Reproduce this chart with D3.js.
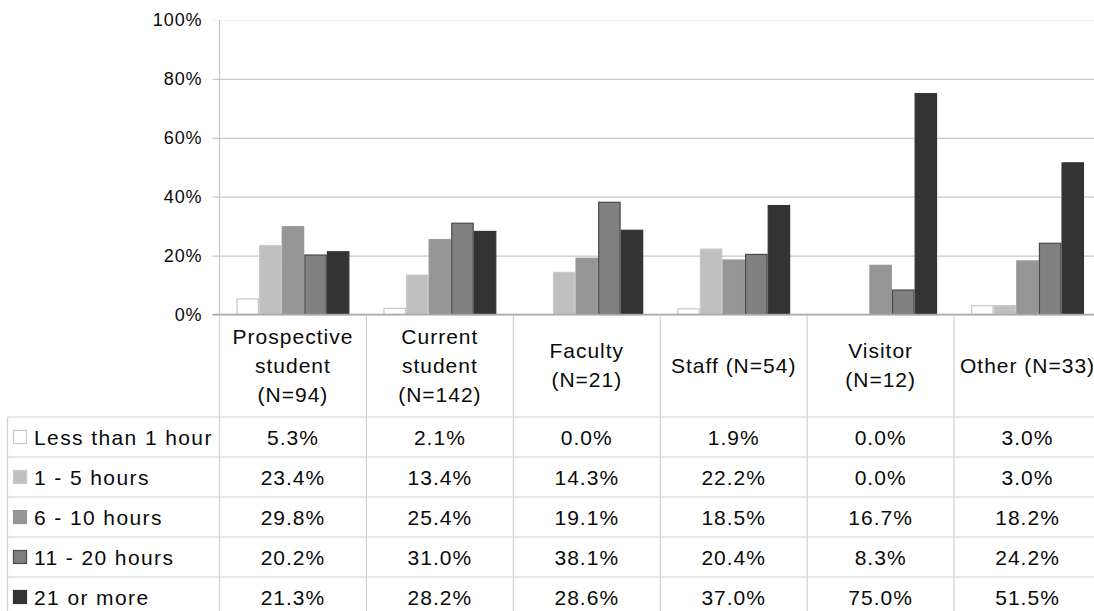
<!DOCTYPE html>
<html>
<head>
<meta charset="utf-8">
<script src="https://cdn.jsdelivr.net/npm/d3@7"></script>
<style>
  body { margin: 0; background: #fff; }
  svg { display: block; font-family: "Liberation Sans", Arial, sans-serif; }
</style>
</head>
<body>
<svg id="chart" width="1094" height="611"></svg>
<script>
(function() {

  var categories = ["Prospective student (N=94)", "Current student (N=142)", "Faculty (N=21)",
                    "Staff (N=54)", "Visitor (N=12)", "Other (N=33)"];
  var categoryLines = [
    ["Prospective", "student", "(N=94)"],
    ["Current", "student", "(N=142)"],
    ["Faculty", "(N=21)"],
    ["Staff (N=54)"],
    ["Visitor", "(N=12)"],
    ["Other (N=33)"]
  ];

  var series = ["Less than 1 hour", "1 - 5 hours", "6 - 10 hours", "11 - 20 hours", "21 or more"];

  var lessThan1 = [0.053, 0.021, 0.000, 0.019, 0.000, 0.030];
  var hours1to5 = [0.234, 0.134, 0.143, 0.222, 0.000, 0.030];
  var hours6to10 = [0.298, 0.254, 0.191, 0.185, 0.167, 0.182];
  var hours11to20 = [0.202, 0.310, 0.381, 0.204, 0.083, 0.242];
  var hours21plus = [0.213, 0.282, 0.286, 0.370, 0.750, 0.515];

  var yTicks = [0, 0.2, 0.4, 0.6, 0.8, 1.0];

  var values = [lessThan1, hours1to5, hours6to10, hours11to20, hours21plus];
  var fills = ["#ffffff", "#c0c0c0", "#969696", "#808080", "#333333"];
  var strokes = ["#c8c8c8", "#cacaca", "#969696", "#4a4a4a", "#333333"];

  var svg = d3.select("#chart");
  var gridColor = "#c8c8c8";
  var tableColor = "#d2d2d2";

  var left = 219.5, right = 1101, top = 20, zeroY = 314.5;
  var headerBottom = 417, rowH = 40;

  var x = d3.scaleBand().domain(categories).range([left, right]).padding(0);
  var xs = d3.scaleBand().domain(series).range([0, x.bandwidth()]).paddingInner(0).paddingOuter(0.75);
  var y = d3.scaleLinear().domain([0, 1]).range([zeroY, top]);

  // grid + y axis
  var yAxis = d3.axisLeft(y).tickValues(yTicks).tickFormat(d3.format(".0%"))
    .tickSize(-(1094 - left)).tickPadding(16);
  var ga = svg.append("g").attr("transform", "translate(" + left + ",0)").call(yAxis);
  ga.select(".domain").remove();
  ga.selectAll(".tick line")
    .attr("x1", -7)
    .attr("stroke", d => d === 1 ? "#f2f2f2" : gridColor)
    .attr("stroke-width", 1.2);
  ga.selectAll(".tick text")
    .attr("fill", "#0a0a0a")
    .style("font-size", "18px")
    .style("letter-spacing", "0.9px")
    .attr("x", -17);
  svg.append("line")
    .attr("x1", left).attr("x2", left).attr("y1", top).attr("y2", zeroY)
    .attr("stroke", gridColor).attr("stroke-width", 1.2);

  // bars
  var groups = svg.append("g").selectAll("g")
    .data(series)
    .enter().append("g");

  groups.selectAll("rect")
    .data((s, i) => values[i].map((v, c) => ({ s : s, i : i, c : categories[c], v : v })))
    .enter().append("rect")
    .filter(d => d.v > 0)
    .attr("x", d => x(d.c) + xs(d.s) + 0.6)
    .attr("y", d => y(d.v))
    .attr("width", xs.bandwidth() - 1.2)
    .attr("height", d => zeroY - y(d.v))
    .attr("fill", d => fills[d.i])
    .attr("stroke", d => strokes[d.i])
    .attr("stroke-width", 1.2);

  // zero line
  svg.append("line")
    .attr("x1", left - 7).attr("x2", 1094).attr("y1", zeroY).attr("y2", zeroY)
    .attr("stroke", "#a8a8a8").attr("stroke-width", 1.5);

  // table
  var nRows = series.length;
  var tableBottom = headerBottom + rowH * nRows;
  var table = svg.append("g");

  // vertical separators
  table.selectAll("line.sep")
    .data(categories.concat(["end"]))
    .enter().append("line")
    .attr("class", "sep")
    .attr("x1", d => d === "end" ? right : x(d))
    .attr("x2", d => d === "end" ? right : x(d))
    .attr("y1", zeroY + 1).attr("y2", tableBottom)
    .attr("stroke", tableColor).attr("stroke-width", 1.2);

  table.append("line")
    .attr("x1", 7.5).attr("x2", 7.5).attr("y1", headerBottom).attr("y2", tableBottom)
    .attr("stroke", tableColor).attr("stroke-width", 1.2);

  table.selectAll("line.row")
    .data(d3.range(nRows + 1))
    .enter().append("line")
    .attr("class", "row")
    .attr("x1", 7.5).attr("x2", 1094)
    .attr("y1", r => headerBottom + r * rowH).attr("y2", r => headerBottom + r * rowH)
    .attr("stroke", tableColor).attr("stroke-width", 1.2);

  var textStyle = function(sel) {
    sel.attr("fill", "#0a0a0a").style("font-size", "21px").style("letter-spacing", "1px");
  };

  // header labels
  var headerMid = (zeroY + headerBottom) / 2;
  categories.forEach(function(c, ci) {
    var lines = categoryLines[ci];
    var lh = 29;
    var y0 = headerMid - (lines.length - 1) * lh / 2 + 7;
    svg.append("text")
      .attr("x", x(c) + x.bandwidth() / 2)
      .attr("text-anchor", "middle")
      .call(textStyle)
      .selectAll("tspan")
      .data(lines)
      .enter().append("tspan")
      .attr("x", x(c) + x.bandwidth() / 2)
      .attr("y", (d, i) => y0 + i * lh)
      .text(d => d);
  });

  // legend column + values
  var fmt = d3.format(".1%");
  series.forEach(function(s, i) {
    var rowMid = headerBottom + i * rowH + rowH / 2;
    svg.append("rect")
      .attr("x", 13.5).attr("y", rowMid - 6.5)
      .attr("width", 13).attr("height", 13)
      .attr("fill", fills[i]).attr("stroke", strokes[i]).attr("stroke-width", 1.2);
    svg.append("text")
      .attr("x", 34).attr("y", rowMid + 7.5)
      .call(textStyle)
      .style("letter-spacing", "1.4px")
      .text(s);
    values[i].forEach(function(v, c) {
      svg.append("text")
        .attr("x", x(categories[c]) + x.bandwidth() / 2)
        .attr("y", rowMid + 7.5)
        .attr("text-anchor", "middle")
        .call(textStyle)
        .text(fmt(v));
    });
  });

})();
</script>
</body>
</html>
